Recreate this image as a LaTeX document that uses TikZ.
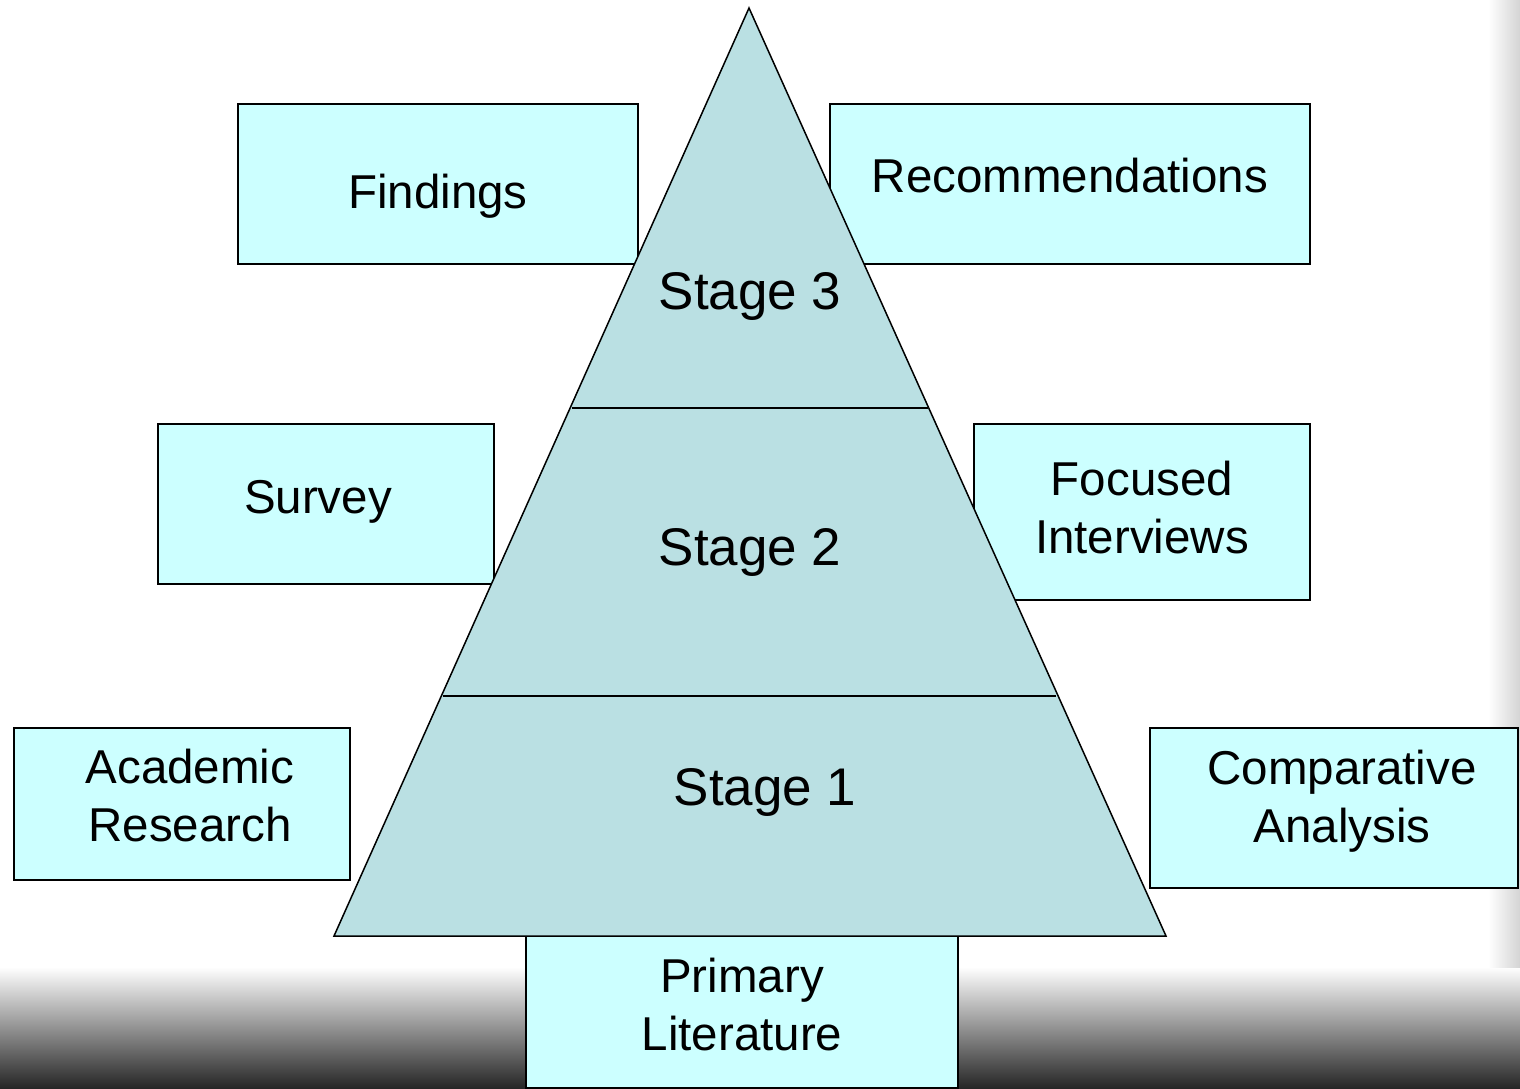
\documentclass[tikz,border=0pt]{standalone}
\usepackage{fontspec}
\setmainfont{Liberation Sans}
\definecolor{boxfill}{HTML}{CCFFFF}
\definecolor{pyrfill}{HTML}{BAE0E3}
\definecolor{darkbg}{HTML}{262626}
\definecolor{edgegray}{HTML}{D4D4D4}
\begin{document}
\begin{tikzpicture}[x=1pt,y=-1pt,
  box/.style={draw=black, line width=2pt, fill=boxfill, rectangle, inner sep=0pt},
  lbl/.style={font=\fontsize{47.5}{58}\selectfont, inner sep=0pt, align=center},
  stagelbl/.style={font=\fontsize{53}{63}\selectfont, inner sep=0pt, anchor=base},
  pyr/.style={draw=black, line width=1.5pt, fill=pyrfill, line join=miter}
]
\useasboundingbox (0,0) rectangle (1520,1088);
% background
\fill[white] (0,0) rectangle (1520,1088);
\shade[top color=white, bottom color=darkbg] (0,967) rectangle (1520,1088);
\shade[left color=white, right color=edgegray] (1488,0) rectangle (1520,967);

% boxes
\node[box, minimum width=400pt, minimum height=160pt] (findbox) at (438,184) {};
\node[box, minimum width=480pt, minimum height=160pt] (recbox) at (1070,184) {};
\node[box, minimum width=336pt, minimum height=160pt] (survbox) at (326,504) {};
\node[box, minimum width=336pt, minimum height=176pt] (focbox) at (1142,512) {};
\node[box, minimum width=336pt, minimum height=152pt] (acadbox) at (182,804) {};
\node[box, minimum width=368pt, minimum height=160pt] (compbox) at (1334,808) {};
\node[box, minimum width=432pt, minimum height=152pt] (primbox) at (742,1012) {};

% pyramid
\coordinate (apex) at (749,8);
\coordinate (bl) at (334,936);
\coordinate (br) at (1166,936);
\draw[pyr] (apex) -- (br) -- (bl) -- cycle;
\coordinate (l3) at (572,408);
\coordinate (r3) at (928,408);
\coordinate (l2) at (443,696);
\coordinate (r2) at (1056,696);
\draw[line width=1.5pt] (l3) -- (r3);
\draw[line width=1.5pt] (l2) -- (r2);

% texts
\node[lbl, anchor=base] (findings) at (438,208) {Findings};
\node[lbl, anchor=base] (recs) at (1070,192) {Recommendations};
\node[lbl, anchor=base] (survey) at (318,513) {Survey};
\node[lbl] (focused) at (1142,508) {Focused\\Interviews};
\node[lbl] (academic) at (190,796) {Academic\\Research};
\node[lbl] (compar) at (1342,801) {Comparative\\Analysis};
\node[lbl] (primary) at (742,1005) {Primary\\Literature};
\node[stagelbl] (s3) at (750,309) {Stage 3};
\node[stagelbl] (s2) at (750,565) {Stage 2};
\node[stagelbl] (s1) at (765,805) {Stage 1};
\end{tikzpicture}
\end{document}
